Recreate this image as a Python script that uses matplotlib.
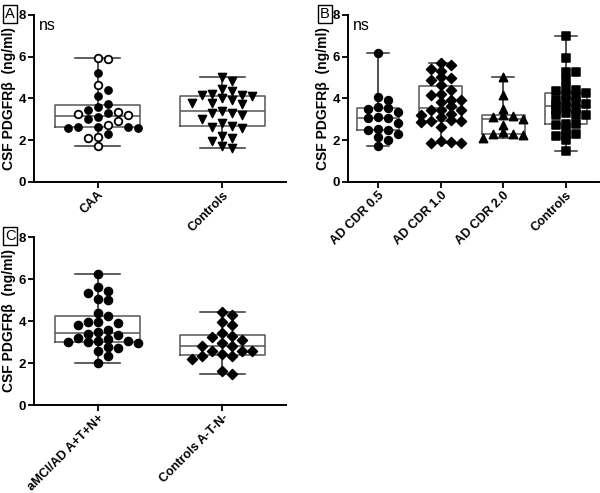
import numpy as np
import matplotlib.pyplot as plt

plt.rcParams['font.family'] = ['Liberation Sans', 'DejaVu Sans']

# ---- data (ng/ml) -----------------------------------------------------------
# Panel A
caa_open = [5.92, 5.87, 4.64, 3.34, 3.28, 3.22, 2.93, 2.72, 2.16, 2.10, 1.73]
caa_filled = [5.20, 4.40, 4.13, 3.73, 3.60, 3.44, 3.31, 3.09, 3.00,
              2.64, 2.64, 2.62, 2.61, 2.61, 2.29]
ctrl_a = [5.01, 4.85, 4.44, 4.35, 4.20, 4.16, 4.15, 4.13, 4.03, 3.91, 3.79,
          3.78, 3.72, 3.39, 3.31, 3.31, 3.20, 3.04, 2.85, 2.69, 2.64, 2.59,
          2.21, 2.13, 1.95, 1.73, 1.65]
labels_a = ["CAA", "Controls"]

# Panel B
cdr05 = [6.20, 4.08, 3.95, 3.58, 3.55, 3.52, 3.35, 3.12, 3.08, 3.05, 2.82,
         2.55, 2.50, 2.48, 2.30, 2.15, 2.03, 1.74]
cdr10 = [5.68, 5.60, 5.41, 5.33, 5.01, 4.99, 4.88, 4.64, 4.40, 4.21, 4.19,
         3.95, 3.92, 3.84, 3.63, 3.47, 3.44, 3.44, 3.28, 3.20, 3.10, 2.96,
         2.93, 2.90, 2.88, 2.64, 1.97, 1.92, 1.89, 1.87]
cdr20 = [5.05, 4.16, 3.52, 3.20, 3.15, 3.09, 3.04, 2.72, 2.40, 2.32, 2.29,
         2.27, 2.10]
ctrl_b = [6.99, 5.92, 5.28, 5.28, 4.91, 4.48, 4.40, 4.37, 4.25, 4.15, 4.10,
          3.95, 3.90, 3.85, 3.76, 3.70, 3.60, 3.50, 3.44, 3.30, 3.22, 3.20,
          3.20, 2.80, 2.78, 2.72, 2.48, 2.32, 2.24, 2.19, 2.00, 1.47]
labels_b = ["AD CDR 0.5", "AD CDR 1.0", "AD CDR 2.0", "Controls"]

# Panel C
atn_pos = [6.23, 5.62, 5.41, 5.33, 5.06, 5.00, 4.38, 4.22, 3.93, 3.93, 3.90,
           3.82, 3.58, 3.50, 3.39, 3.31, 3.20, 3.15, 3.07, 3.03, 2.99, 2.98,
           2.95, 2.74, 2.71, 2.55, 2.31, 1.99]
atn_neg = [4.41, 4.28, 3.95, 3.82, 3.42, 3.30, 3.22, 3.10, 2.95, 2.82, 2.82,
           2.58, 2.58, 2.58, 2.42, 2.34, 2.34, 2.18, 1.62, 1.48]
labels_c = ["aMCI/AD A+T+N+", "Controls A-T-N-"]

YLABEL = "CSF PDGFR\u03b2  (ng/ml)"


def swarm_offsets(ax, values, step=10, mindist=8.5):
    """Simple beeswarm: x offsets (data units) so markers don't overlap much."""
    to_px = ax.transData
    px_per_x = to_px.transform((1, 0))[0] - to_px.transform((0, 0))[0]
    ys = [to_px.transform((0, v))[1] for v in values]
    order = np.argsort(values)[::-1]
    placed = []
    offs = np.zeros(len(values))
    for i in order:
        y = ys[i]
        for k in [0, 1, -1, 2, -2, 3, -3, 4, -4, 5, -5, 6, -6]:
            x = k * step
            if all(np.hypot(x - qx, y - qy) >= mindist for qx, qy in placed):
                break
        placed.append((x, y))
        offs[i] = x / px_per_x
    return offs


def setup_axes(ax, labels, xlim):
    ax.set_xlim(*xlim)
    ax.set_ylim(0, 8)
    ax.set_yticks([0, 2, 4, 6, 8])
    ax.set_xticks(range(len(labels)))
    ax.set_xticklabels(labels, rotation=45, ha="right",
                       rotation_mode="anchor", fontsize=9, fontweight="bold")
    for lab in ax.get_yticklabels():
        lab.set_fontweight("bold")
        lab.set_fontsize(9.5)
    ax.spines["top"].set_visible(False)
    ax.spines["right"].set_visible(False)
    ax.spines["left"].set_linewidth(1.4)
    ax.spines["bottom"].set_linewidth(1.4)
    ax.tick_params(axis="both", length=4, width=1.3, pad=1.5)
    ax.tick_params(axis="x", pad=1)
    ax.set_ylabel(YLABEL, fontsize=10, fontweight="bold", labelpad=2)


def draw_box(ax, data, pos):
    ax.boxplot(data, positions=pos, widths=0.68, whis=(0, 100),
               showfliers=False, patch_artist=False, manage_ticks=False,
               boxprops=dict(color="#555555", lw=1.1),
               medianprops=dict(color="#555555", lw=1.1),
               whiskerprops=dict(color="#222222", lw=1.1),
               capprops=dict(color="#333333", lw=1.1),
               capwidths=0.36, zorder=1)


def draw_points(ax, values, xc, marker, size, mindist=8.5):
    offs = swarm_offsets(ax, values, mindist=mindist)
    ax.scatter(np.full(len(values), xc) + offs, values, marker=marker, s=size,
               facecolor="black", edgecolor="black", linewidth=1.1, zorder=3)


fig = plt.figure(figsize=(6.0, 4.93), dpi=100)
W, H = 600, 493

axA = fig.add_axes([34 / W, (H - 182) / H, 252 / W, 167 / H])
axB = fig.add_axes([348 / W, (H - 182) / H, 251 / W, 167 / H])
axC = fig.add_axes([34 / W, (H - 405) / H, 252 / W, 168 / H])

# Panel A
setup_axes(axA, labels_a, (-0.51, 1.51))
draw_box(axA, [caa_open + caa_filled, ctrl_a], [0, 1])
caa_all = caa_open + caa_filled
offs = swarm_offsets(axA, caa_all)
n_open = len(caa_open)
axA.scatter(offs[:n_open], caa_open, marker="o", s=30, facecolor="white",
            edgecolor="black", linewidth=1.3, zorder=3)
axA.scatter(offs[n_open:], caa_filled, marker="o", s=28, facecolor="black",
            edgecolor="black", linewidth=1.0, zorder=3)
draw_points(axA, ctrl_a, 1, "v", 34)

# Panel B -- points overlap more here, as in the original
setup_axes(axB, labels_b, (-0.48, 3.53))
draw_box(axB, [cdr05, cdr10, cdr20, ctrl_b], [0, 1, 2, 3])
draw_points(axB, cdr05, 0, "o", 32, mindist=6.5)
draw_points(axB, cdr10, 1, "D", 26, mindist=6.5)
draw_points(axB, cdr20, 2, "^", 36, mindist=6.5)
draw_points(axB, ctrl_b, 3, "s", 32, mindist=5)

# Panel C
setup_axes(axC, labels_c, (-0.51, 1.51))
draw_box(axC, [atn_pos, atn_neg], [0, 1])
draw_points(axC, atn_pos, 0, "o", 34)
draw_points(axC, atn_neg, 1, "D", 26)

# "ns" annotations
axA.text(0.02, 0.985, "ns", transform=axA.transAxes, fontsize=11.5,
         ha="left", va="top")
axB.text(0.02, 0.985, "ns", transform=axB.transAxes, fontsize=11.5,
         ha="left", va="top")

# panel letters
for letter, x, y in [("A", 10 / W, (H - 14) / H), ("B", 325 / W, (H - 14) / H),
                     ("C", 10 / W, (H - 236) / H)]:
    fig.text(x, y, letter, fontsize=10.5, ha="center", va="center",
             bbox=dict(boxstyle="square,pad=0.12", facecolor="white",
                       edgecolor="black", lw=1.0))

fig.savefig("out.png", dpi=100)
